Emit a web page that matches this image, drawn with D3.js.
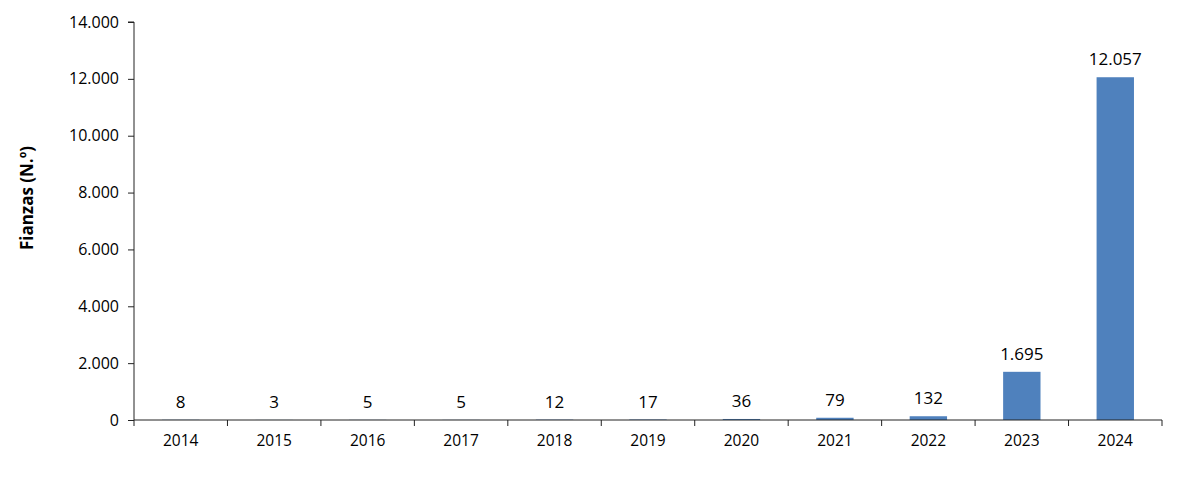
<!DOCTYPE html>
<html><head><meta charset="utf-8">
<script src="https://cdn.jsdelivr.net/npm/d3@7"></script>
<style>body{margin:0;background:#fff}svg text{font-family:"Open Sans",sans-serif;fill:#000}</style>
</head><body>
<svg id="c" width="1200" height="484"></svg>
<script>
const years = ["2014","2015","2016","2017","2018","2019","2020","2021","2022","2023","2024"];
const values = [8,3,5,5,12,17,36,79,132,1695,12057];
const yTicks = [0,2000,4000,6000,8000,10000,12000,14000];
const yTitle = "Fianzas (N.º)";

const svg = d3.select("#c");
const m = {left:134, right:38, top:22, bottom:64};
const W = 1200, H = 484;
const x = d3.scaleBand().domain(years).range([m.left, W - m.right]).paddingInner(0.6).paddingOuter(0.3);
const y = d3.scaleLinear().domain([0,14000]).range([H - m.bottom, m.top]);
const fmt = v => d3.format(",")(v).replace(/,/g,".");

// bars
svg.selectAll("rect.bar").data(values).enter().append("rect")
  .attr("x",(d,i)=>x(years[i])).attr("width",x.bandwidth())
  .attr("y",d=>y(d)).attr("height",d=>y(0)-y(d)).attr("fill","#4f81bd");

// y axis
const ya = svg.append("g").attr("transform",`translate(${m.left},0)`)
  .call(d3.axisLeft(y).tickValues(yTicks).tickFormat(fmt).tickSize(6).tickPadding(9));
ya.select(".domain").attr("stroke","#222").attr("d",`M-6,${y(14000)}H0V${y(0)}`);
ya.selectAll(".tick line").attr("stroke","#222");
ya.selectAll("text").style("font-size","16px");

// x axis
const xg = svg.append("g").attr("transform",`translate(0,${y(0)})`);
xg.append("line").attr("x1",m.left).attr("x2",W - m.right).attr("stroke","#222");
const bounds = d3.range(years.length+1).map(i=>m.left + i*((W-m.right-m.left)/years.length));
xg.selectAll("line.t").data(bounds).enter().append("line")
  .attr("x1",d=>d).attr("x2",d=>d).attr("y1",0).attr("y2",6).attr("stroke","#222");
xg.selectAll("text").data(years).enter().append("text")
  .attr("x",d=>x(d)+x.bandwidth()/2).attr("y",26).attr("text-anchor","middle")
  .style("font-size","15.5px").text(d=>d);

// labels
svg.selectAll("text.lab").data(values).enter().append("text")
  .attr("x",(d,i)=>x(years[i])+x.bandwidth()/2).attr("y",d=>y(d)-12)
  .attr("text-anchor","middle").style("font-size","17px").text(d=>fmt(d));

// y title
svg.append("text").attr("transform",`translate(33,198) rotate(-90)`)
  .attr("text-anchor","middle").style("font-size","17px").style("font-weight","bold").text(yTitle);
</script>
</body></html>
